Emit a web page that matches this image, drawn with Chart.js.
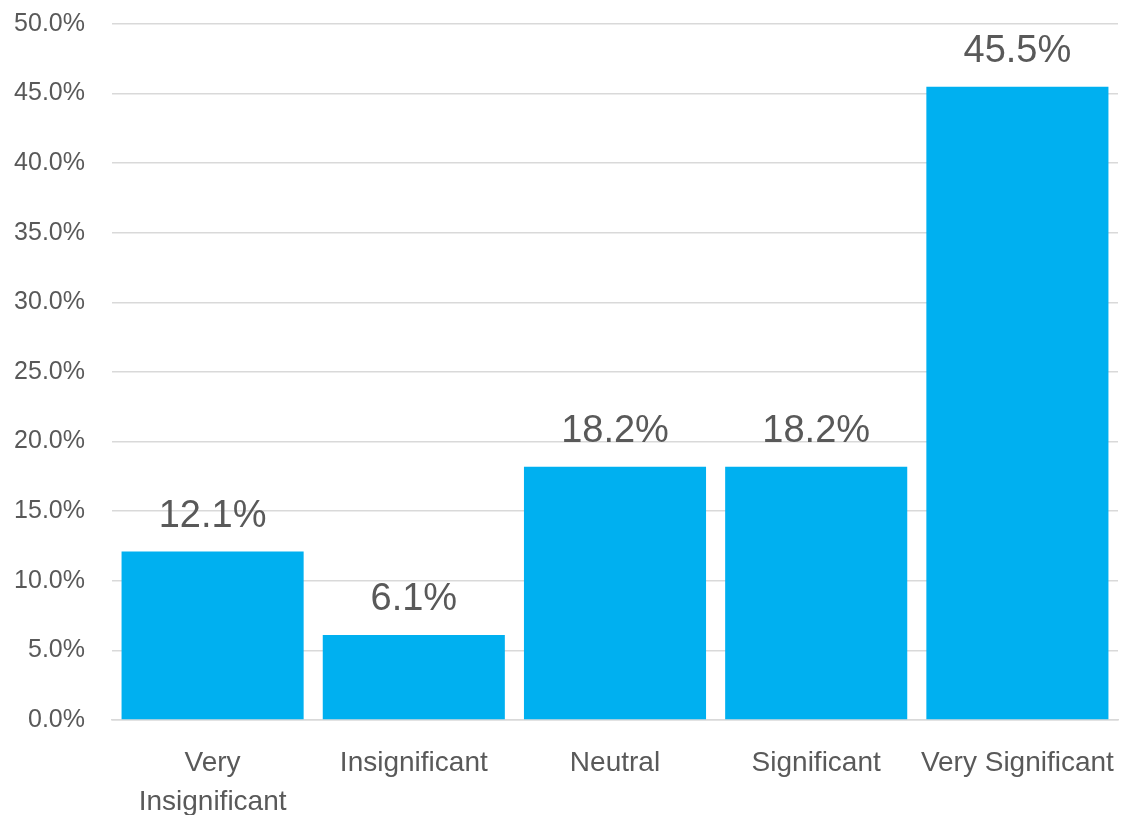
<!DOCTYPE html>
<html>
<head>
<meta charset="utf-8">
<script src="https://cdn.jsdelivr.net/npm/chart.js@4"></script>
<style>
  html, body { margin: 0; padding: 0; background: #ffffff; }
  #wrap { width: 1125px; height: 815px; }
</style>
</head>
<body>
<div id="wrap"><canvas id="chart" width="1125" height="815"></canvas></div>
<script>
// Share of responses by rating
const categories = [['Very', 'Insignificant'], 'Insignificant', 'Neutral', 'Significant', 'Very Significant'];
const shares = [12.1, 6.1, 18.2, 18.2, 45.5];
const yTicks = [0, 5, 10, 15, 20, 25, 30, 35, 40, 45, 50];

const TEXT = '#595959';
const FONT = "'Liberation Sans', Arial, sans-serif";

// Writes each bar's value above it
const valueLabels = {
  id: 'valueLabels',
  afterDatasetsDraw(chart) {
    const { ctx } = chart;
    const meta = chart.getDatasetMeta(0);
    ctx.save();
    ctx.fillStyle = TEXT;
    ctx.font = '38px ' + FONT;
    ctx.textAlign = 'center';
    ctx.textBaseline = 'alphabetic';
    meta.data.forEach((bar, i) => {
      const v = chart.data.datasets[0].data[i];
      ctx.fillText(v.toFixed(1) + '%', bar.x, bar.y - 25);
    });
    ctx.restore();
  }
};

new Chart(document.getElementById('chart'), {
  type: 'bar',
  data: {
    labels: categories,
    datasets: [{
      data: shares,
      backgroundColor: '#00B0F0',
      borderWidth: 0,
      barPercentage: 0.905,
      categoryPercentage: 1.0
    }]
  },
  options: {
    responsive: false,
    animation: false,
    layout: { padding: { top: 24, right: 7, left: 0, bottom: 0 } },
    plugins: { legend: { display: false }, tooltip: { enabled: false } },
    scales: {
      x: {
        grid: { display: false, drawTicks: false },
        border: { display: true, color: '#D9D9D9', width: 1.5 },
        ticks: {
          color: TEXT,
          font: { family: FONT, size: 28, lineHeight: 1.42 },
          padding: 23,
          maxRotation: 0,
          autoSkip: false
        },
        afterFit(scale) {
          scale.height = 95;
          scale.paddingLeft = 0;
          scale.paddingRight = 0;
        }
      },
      y: {
        min: 0,
        max: 50,
        afterBuildTicks(scale) { scale.ticks = yTicks.map(v => ({ value: v })); },
        grid: { color: '#D9D9D9', lineWidth: 1.5, drawTicks: false },
        border: { display: false },
        ticks: {
          color: TEXT,
          font: { family: FONT, size: 25 },
          padding: 27,
          callback: v => v.toFixed(1) + '%'
        },
        afterFit(scale) {
          scale.width = 112;
          scale.paddingTop = 0;
          scale.paddingBottom = 0;
        }
      }
    }
  },
  plugins: [valueLabels]
});
</script>
</body>
</html>
